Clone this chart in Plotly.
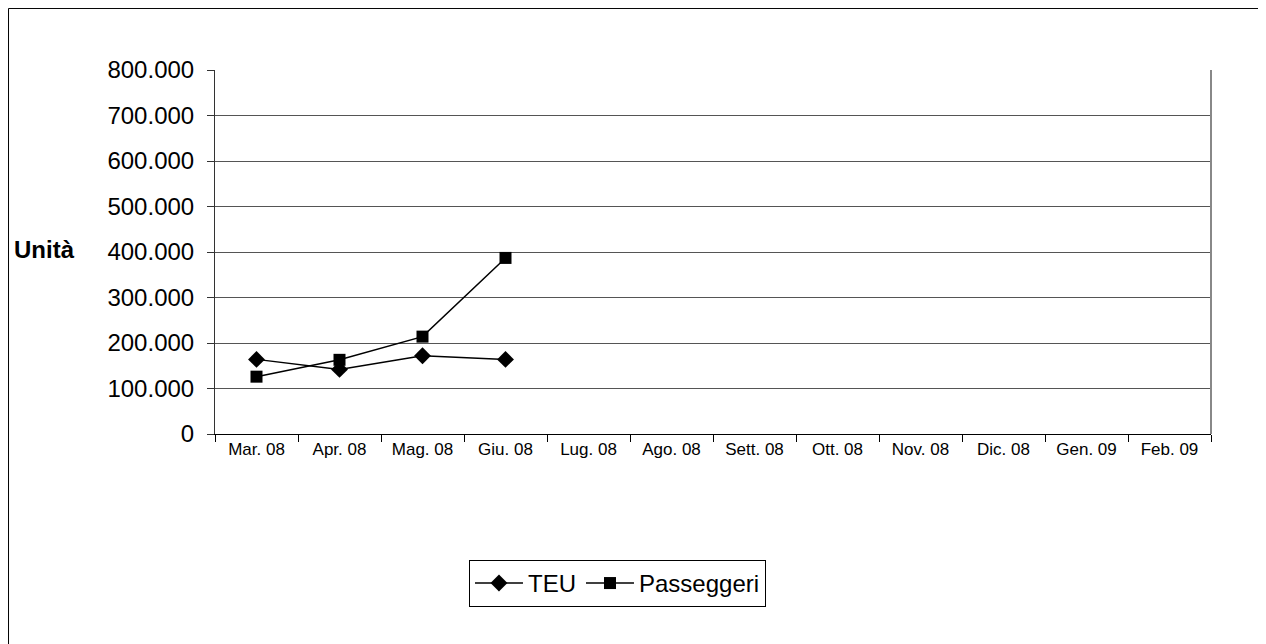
import plotly.graph_objects as go

mesi = ['Mar. 08', 'Apr. 08', 'Mag. 08', 'Giu. 08', 'Lug. 08', 'Ago. 08',
        'Sett. 08', 'Ott. 08', 'Nov. 08', 'Dic. 08', 'Gen. 09', 'Feb. 09']
teu = [164000, 142000, 172000, 164000]
passeggeri = [126000, 163000, 214000, 387000]

FONT = 'Liberation Sans, Arial, sans-serif'

fig = go.Figure()

fig.add_trace(go.Scatter(x=mesi[:len(teu)], y=teu, name='TEU',
                         mode='lines+markers',
                         line=dict(color='black', width=1.5),
                         marker=dict(symbol='diamond', size=13, color='black')))

fig.add_trace(go.Scatter(x=mesi[:len(passeggeri)], y=passeggeri, name='Passeggeri',
                         mode='lines+markers',
                         line=dict(color='black', width=1.5),
                         marker=dict(symbol='square', size=12, color='black')))

# page body has an 8px margin, so the figure is a bit smaller than the window
fig.update_layout(
    width=1258, height=636,
    template='plotly_white',
    plot_bgcolor='white', paper_bgcolor='white',
    separators=',.',
    margin=dict(l=207, r=55, t=62, b=210),
    font=dict(family=FONT, color='black'),
    showlegend=True,
    legend=dict(orientation='h', x=0.255, y=-0.346, xanchor='left', yanchor='top',
                bordercolor='black', borderwidth=1, font=dict(size=24, color='black'),
                itemsizing='trace', itemwidth=48, tracegroupgap=0),
)

fig.update_xaxes(type='category', categoryorder='array', categoryarray=mesi,
                 range=[-0.5, len(mesi) - 0.5],
                 showgrid=False, zeroline=False,
                 showline=True, linecolor='black', linewidth=1,
                 ticks='outside', tickson='boundaries', ticklen=7, tickcolor='black',
                 tickfont=dict(size=17, color='black', family=FONT))

fig.update_yaxes(range=[0, 800000], dtick=100000, tickformat=',d',
                 showgrid=True, gridcolor='#555555', gridwidth=1, zeroline=False,
                 showline=True, linecolor='#333333', linewidth=1,
                 ticks='outside', ticklen=7, tickcolor='#333333',
                 ticklabelstandoff=8,
                 tickfont=dict(size=24, color='black', family=FONT))

# right border of the plot area
fig.add_shape(type='line', xref='x domain', yref='y domain', x0=1, x1=1, y0=0, y1=1,
              line=dict(color='#888888', width=2))

# outer chart frame
fig.add_shape(type='rect', xref='paper', yref='paper',
              x0=-0.2073, x1=1.2, y0=-0.8, y1=1.169,
              line=dict(color='black', width=1), layer='below')

fig.add_annotation(text='<b>Unità</b>', xref='paper', yref='paper',
                   x=-0.1707, y=0.5055, xanchor='center', yanchor='middle',
                   showarrow=False,
                   font=dict(size=24, color='black', family=FONT))

fig.write_html('out.html')
